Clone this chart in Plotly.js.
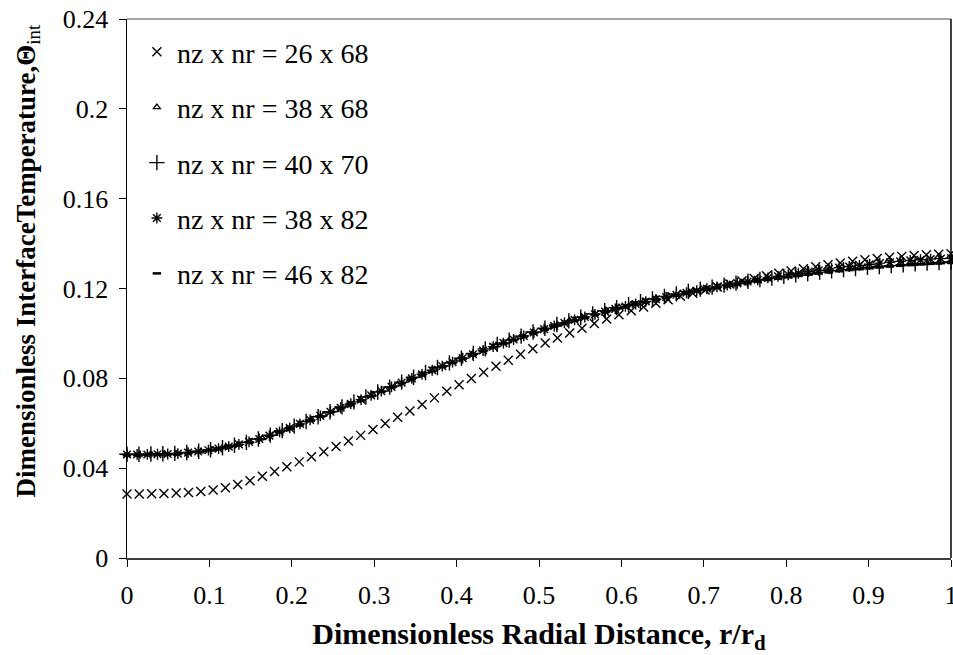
<!DOCTYPE html>
<html>
<head>
<meta charset="utf-8">
<script src="https://cdn.plot.ly/plotly-3.0.1.min.js"></script>
<style>html,body{margin:0;padding:0;background:#fff;}#chart{width:953px;height:655px;}</style>
</head>
<body>
<div id="chart"></div>
<script>
// Radial positions (r/rd) for each grid
const x68 = [0,0.0149,0.0299,0.0448,0.0597,0.0746,0.0896,0.1045,0.1194,0.1343,0.1493,0.1642,0.1791,0.1940,0.2090,0.2239,0.2388,0.2537,0.2687,0.2836,0.2985,0.3134,0.3284,0.3433,0.3582,0.3731,0.3881,0.4030,0.4179,0.4328,0.4478,0.4627,0.4776,0.4925,0.5075,0.5224,0.5373,0.5522,0.5672,0.5821,0.5970,0.6119,0.6269,0.6418,0.6567,0.6716,0.6866,0.7015,0.7164,0.7313,0.7463,0.7612,0.7761,0.7910,0.8060,0.8209,0.8358,0.8507,0.8657,0.8806,0.8955,0.9104,0.9254,0.9403,0.9552,0.9701,0.9851,1];
const x70 = [0,0.0145,0.0290,0.0435,0.0580,0.0725,0.0870,0.1014,0.1159,0.1304,0.1449,0.1594,0.1739,0.1884,0.2029,0.2174,0.2319,0.2464,0.2609,0.2754,0.2899,0.3043,0.3188,0.3333,0.3478,0.3623,0.3768,0.3913,0.4058,0.4203,0.4348,0.4493,0.4638,0.4783,0.4928,0.5072,0.5217,0.5362,0.5507,0.5652,0.5797,0.5942,0.6087,0.6232,0.6377,0.6522,0.6667,0.6812,0.6957,0.7101,0.7246,0.7391,0.7536,0.7681,0.7826,0.7971,0.8116,0.8261,0.8406,0.8551,0.8696,0.8841,0.8986,0.9130,0.9275,0.9420,0.9565,0.9710,0.9855,1];
const x82 = [0,0.0123,0.0247,0.0370,0.0494,0.0617,0.0741,0.0864,0.0988,0.1111,0.1235,0.1358,0.1481,0.1605,0.1728,0.1852,0.1975,0.2099,0.2222,0.2346,0.2469,0.2593,0.2716,0.2840,0.2963,0.3086,0.3210,0.3333,0.3457,0.3580,0.3704,0.3827,0.3951,0.4074,0.4198,0.4321,0.4444,0.4568,0.4691,0.4815,0.4938,0.5062,0.5185,0.5309,0.5432,0.5556,0.5679,0.5802,0.5926,0.6049,0.6173,0.6296,0.6420,0.6543,0.6667,0.6790,0.6914,0.7037,0.7160,0.7284,0.7407,0.7531,0.7654,0.7778,0.7901,0.8025,0.8148,0.8272,0.8395,0.8519,0.8642,0.8765,0.8889,0.9012,0.9136,0.9259,0.9383,0.9506,0.9630,0.9753,0.9877,1];

// Dimensionless interface temperature for each grid
const theta_26x68 = [0.0285,0.0285,0.0286,0.0287,0.0289,0.0292,0.0296,0.0303,0.0313,0.0327,0.0344,0.0364,0.0385,0.0406,0.0428,0.0451,0.0473,0.0496,0.0521,0.0546,0.0572,0.0599,0.0627,0.0655,0.0684,0.0713,0.0742,0.0771,0.0799,0.0827,0.0854,0.0881,0.0907,0.0932,0.0957,0.0980,0.1002,0.1023,0.1044,0.1064,0.1083,0.1101,0.1118,0.1134,0.1150,0.1165,0.1179,0.1193,0.1207,0.1220,0.1233,0.1245,0.1257,0.1268,0.1278,0.1288,0.1297,0.1306,0.1314,0.1321,0.1328,0.1334,0.1339,0.1343,0.1347,0.1350,0.1353,0.1355];
const theta_38x68 = [0.0460,0.0460,0.0461,0.0462,0.0465,0.0469,0.0475,0.0483,0.0493,0.0504,0.0518,0.0534,0.0553,0.0574,0.0595,0.0616,0.0638,0.0660,0.0683,0.0705,0.0728,0.0750,0.0773,0.0796,0.0818,0.0840,0.0862,0.0884,0.0905,0.0926,0.0947,0.0966,0.0985,0.1004,0.1022,0.1039,0.1056,0.1072,0.1087,0.1102,0.1117,0.1130,0.1143,0.1156,0.1168,0.1179,0.1190,0.1200,0.1210,0.1219,0.1228,0.1236,0.1244,0.1251,0.1258,0.1265,0.1272,0.1278,0.1284,0.1289,0.1294,0.1299,0.1303,0.1307,0.1310,0.1313,0.1315,0.1317];
const theta_40x70 = [0.0462,0.0462,0.0463,0.0464,0.0466,0.0470,0.0475,0.0482,0.0491,0.0502,0.0515,0.0530,0.0547,0.0567,0.0587,0.0608,0.0629,0.0651,0.0673,0.0695,0.0717,0.0739,0.0761,0.0783,0.0805,0.0826,0.0848,0.0869,0.0890,0.0911,0.0931,0.0951,0.0970,0.0988,0.1006,0.1023,0.1040,0.1056,0.1072,0.1087,0.1101,0.1115,0.1128,0.1141,0.1153,0.1165,0.1176,0.1187,0.1197,0.1206,0.1215,0.1224,0.1232,0.1240,0.1247,0.1254,0.1261,0.1267,0.1273,0.1279,0.1284,0.1289,0.1294,0.1298,0.1302,0.1306,0.1310,0.1313,0.1316,0.1318];
const theta_38x82 = [0.0461,0.0461,0.0461,0.0462,0.0463,0.0465,0.0469,0.0474,0.0480,0.0487,0.0496,0.0506,0.0517,0.0530,0.0545,0.0562,0.0579,0.0597,0.0615,0.0633,0.0651,0.0669,0.0687,0.0705,0.0724,0.0743,0.0762,0.0781,0.0800,0.0818,0.0836,0.0854,0.0872,0.0890,0.0907,0.0924,0.0941,0.0957,0.0973,0.0989,0.1004,0.1019,0.1033,0.1047,0.1060,0.1073,0.1085,0.1097,0.1109,0.1120,0.1131,0.1142,0.1152,0.1162,0.1172,0.1181,0.1190,0.1199,0.1207,0.1215,0.1223,0.1231,0.1239,0.1247,0.1254,0.1261,0.1268,0.1275,0.1281,0.1287,0.1293,0.1298,0.1303,0.1308,0.1313,0.1317,0.1321,0.1325,0.1328,0.1331,0.1333,0.1335];
const theta_46x82 = [0.0458,0.0458,0.0459,0.0460,0.0461,0.0463,0.0467,0.0472,0.0478,0.0485,0.0494,0.0504,0.0515,0.0528,0.0543,0.0559,0.0576,0.0594,0.0612,0.0630,0.0648,0.0666,0.0684,0.0702,0.0721,0.0740,0.0759,0.0778,0.0797,0.0815,0.0833,0.0851,0.0869,0.0887,0.0904,0.0921,0.0938,0.0954,0.0970,0.0986,0.1001,0.1016,0.1030,0.1044,0.1057,0.1070,0.1082,0.1094,0.1106,0.1117,0.1128,0.1139,0.1149,0.1159,0.1168,0.1177,0.1186,0.1194,0.1202,0.1210,0.1217,0.1224,0.1231,0.1238,0.1244,0.1250,0.1256,0.1262,0.1267,0.1272,0.1277,0.1282,0.1286,0.1290,0.1294,0.1298,0.1301,0.1304,0.1307,0.1310,0.1313,0.1316];

const seriesNames = ["nz x nr = 26 x 68","nz x nr = 38 x 68","nz x nr = 40 x 70","nz x nr = 38 x 82","nz x nr = 46 x 82"];

const xTickVals = [0,0.1,0.2,0.3,0.4,0.5,0.6,0.7,0.8,0.9,1];
const xTickText = ["0","0.1","0.2","0.3","0.4","0.5","0.6","0.7","0.8","0.9","1"];
const yTickVals = [0,0.04,0.08,0.12,0.16,0.2,0.24];
const yTickText = ["0","0.04","0.08","0.12","0.16","0.2","0.24"];

const xTitle = '<b>Dimensionless Radial Distance, r/r<sub>d</sub></b>';
const yTitle = '<b>Dimensionless InterfaceTemperature,\u0398</b><sub>int</sub>';

const serif = 'Liberation Serif';

function tr(x, y, name, symbol, size, lw, grp) {
  return {
    type: 'scatter', mode: 'markers', x: x, y: y, name: name,
    legendgroup: grp, cliponaxis: false,
    marker: {symbol: symbol, size: size, color: '#000', line: {color: '#000', width: lw}}
  };
}

const data = [
  tr(x68, theta_26x68, seriesNames[0], 'x-thin-open', 9, 1.4, 'g1'),
  tr(x68, theta_38x68, seriesNames[1], 'triangle-up-open', 6, 1.3, 'g2'),
  tr(x70, theta_40x70, seriesNames[2], 'cross-thin-open', 11, 1.4, 'g3'),
  tr(x82, theta_38x82, seriesNames[3], 'asterisk-open', 9, 1.4, 'g4'),
  tr(x82, theta_46x82, seriesNames[4], 'line-ew-open', 6, 2.5, 'g5')
];

const layout = {
  width: 953, height: 655,
  margin: {l: 127, r: 2, t: 19, b: 97},
  paper_bgcolor: '#fff', plot_bgcolor: '#fff',
  font: {family: serif, color: '#000', size: 26},
  showlegend: true,
  legend: {
    x: 0.012, y: 0.985, xanchor: 'left', yanchor: 'top',
    bgcolor: 'rgba(0,0,0,0)', borderwidth: 0,
    font: {family: serif, size: 28, color: '#000'},
    tracegroupgap: 16, itemwidth: 30
  },
  xaxis: {
    range: [0, 1], tickmode: 'array', tickvals: xTickVals, ticktext: xTickText,
    showgrid: false, zeroline: false, showline: true, linecolor: '#404040', linewidth: 1.5,
    ticks: 'outside', ticklen: 7, tickcolor: '#000', tickwidth: 1,
    ticklabeloverflow: 'allow', ticklabelstandoff: 6,
    tickfont: {family: serif, size: 26, color: '#000'},
    title: {text: xTitle, font: {family: serif, size: 30, color: '#000'}, standoff: 14}
  },
  yaxis: {
    range: [0, 0.24], tickmode: 'array', tickvals: yTickVals, ticktext: yTickText,
    showgrid: false, zeroline: false, showline: true, linecolor: '#000', linewidth: 1.5,
    ticks: 'outside', ticklen: 7, tickcolor: '#000', tickwidth: 1,
    ticklabelstandoff: 5,
    tickfont: {family: serif, size: 26, color: '#000'}
  },
  annotations: [
    {text: yTitle, xref: 'paper', yref: 'paper', x: -0.12, y: 0.552, xanchor: 'center', yanchor: 'middle',
     textangle: -90, showarrow: false, font: {family: serif, size: 27, color: '#000'}}
  ],
  shapes: [
    {type: 'line', xref: 'paper', yref: 'paper', x0: 0, x1: 1, y0: 1, y1: 1, line: {color: '#888', width: 1.5}},
    {type: 'line', xref: 'paper', yref: 'paper', x0: 1, x1: 1, y0: 0, y1: 1, line: {color: '#000', width: 1.5}}
  ]
};

Plotly.newPlot('chart', data, layout, {displayModeBar: false, staticPlot: true});
</script>
</body>
</html>
